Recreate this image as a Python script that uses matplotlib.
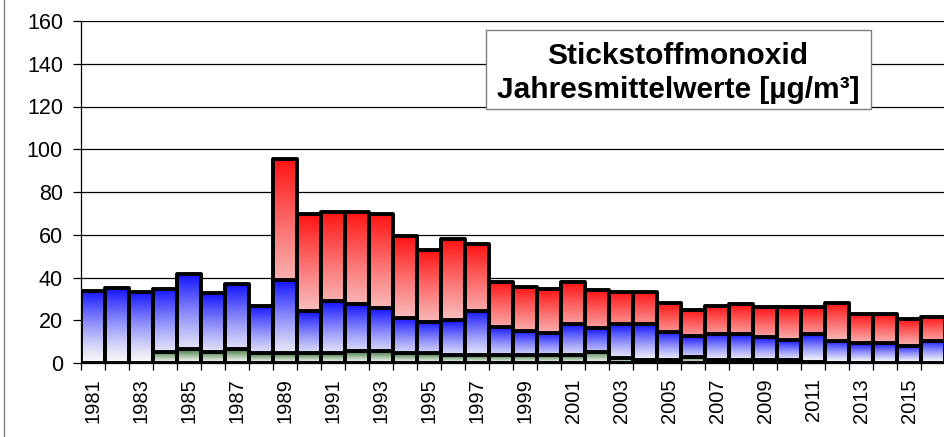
import numpy as np
import matplotlib
matplotlib.use("Agg")
import matplotlib.pyplot as plt
from matplotlib.patches import Rectangle
from matplotlib.lines import Line2D

plt.rcParams['font.family'] = ['Liberation Sans', 'DejaVu Sans']

# Jahresmittelwerte Stickstoffmonoxid, drei Messreihen (ueberlagerte Saeulen)
years = list(range(1981, 2017))
nan = np.nan
red_vals = [nan, nan, nan, nan, nan, nan, nan, nan,
            95.6, 69.5, 70.7, 70.7, 69.6, 59.3, 52.8, 57.8, 55.6, 38.0,
            35.7, 34.4, 37.7, 34.1, 33.3, 33.3, 27.9, 24.8, 26.8, 27.6,
            26.0, 26.0, 26.0, 27.9, 22.7, 22.7, 20.4, 21.6]
blue_vals = [33.8, 35.0, 33.3, 34.7, 41.6, 32.6, 36.9, 26.8,
             38.8, 24.3, 29.0, 27.4, 25.5, 21.2, 19.3, 20.1, 24.5, 17.0,
             15.1, 14.2, 18.2, 16.2, 18.2, 18.2, 14.6, 12.6, 13.6, 13.4,
             12.0, 10.7, 13.4, 10.3, 9.2, 9.2, 8.1, 10.3]
green_vals = [nan, nan, nan, 5.3, 6.4, 5.3, 6.4, 4.5,
              4.5, 4.5, 4.5, 5.6, 5.6, 4.5, 4.5, 3.7, 3.7, 3.7,
              3.7, 3.7, 3.7, 5.3, 2.2, 1.5, 1.4, 2.6, 1.2, 1.2,
              1.2, 1.2, 0.5, nan, nan, nan, nan, nan]

x = np.arange(len(years))


def gradient(rgb, bottom=0.97):
    t = np.linspace(0, 1, 256) ** 1.3
    c = np.array(rgb)
    cols = bottom + (c - bottom) * t[:, None]
    return np.concatenate([cols, np.ones((256, 1))], axis=1)[:, None, :]


def gradient_bars(ax, vals, rgb, z):
    vals = np.array(vals, dtype=float)
    ok = ~np.isnan(vals)
    bars = ax.bar(x[ok], vals[ok], width=1.0, facecolor='none',
                  edgecolor='black', linewidth=2.8, zorder=z + 0.5)
    grad = gradient(rgb)
    for p in bars:
        x0 = p.get_x()
        img = ax.imshow(grad, extent=(x0, x0 + p.get_width(), 0, p.get_height()),
                        origin='lower', aspect='auto', zorder=z,
                        interpolation='bilinear')
        img.set_clip_path(p)
        p.set_joinstyle('round')


fig = plt.figure(figsize=(9.44, 4.37), dpi=100)
ax = fig.add_axes([81 / 944, 1 - 363 / 437, 864 / 944, 342 / 437])

gradient_bars(ax, red_vals, (1.0, 0.07, 0.07), 2)
gradient_bars(ax, blue_vals, (0.07, 0.07, 1.0), 3)
gradient_bars(ax, green_vals, (0.2, 0.45, 0.2), 4)

ax.set_xlim(-0.5, len(years) - 0.5)
ax.set_ylim(0, 160)

ax.set_yticks(range(0, 161, 20))
ax.yaxis.grid(True, color='black', linewidth=0.9)
ax.set_axisbelow(True)
ax.tick_params(axis='y', length=6, width=0.9, pad=7, labelsize=15.5)

ax.set_xticks(x[::2])
ax.set_xticklabels([str(y) for y in years[::2]], rotation=90)
ax.set_xticks(np.arange(-0.5, len(years), 1), minor=True)
ax.tick_params(axis='x', which='major', length=0, pad=11, labelsize=14.5)
ax.tick_params(axis='x', which='minor', length=5, width=0.9)

for s in ['top', 'right']:
    ax.spines[s].set_visible(False)
ax.spines['left'].set_linewidth(0.9)
ax.spines['bottom'].set_linewidth(0.9)

# Titelkasten
fig.add_artist(Rectangle((486 / 944, 1 - 109 / 437), 385 / 944, 79 / 437,
                         transform=fig.transFigure, facecolor='white',
                         edgecolor='#808080', linewidth=1.0, zorder=10))
fig.text(678 / 944, 1 - 64 / 437, 'Stickstoffmonoxid', ha='center',
         va='baseline', fontsize=21.5, fontweight='bold', zorder=11)
fig.text(678 / 944, 1 - 98 / 437, 'Jahresmittelwerte [µg/m³]', ha='center',
         va='baseline', fontsize=21.5, fontweight='bold', zorder=11)

fig.add_artist(Line2D([3.5 / 944, 3.5 / 944], [0, 1], transform=fig.transFigure,
                      color='#808080', linewidth=1.0))

fig.savefig('out.png', dpi=100)
